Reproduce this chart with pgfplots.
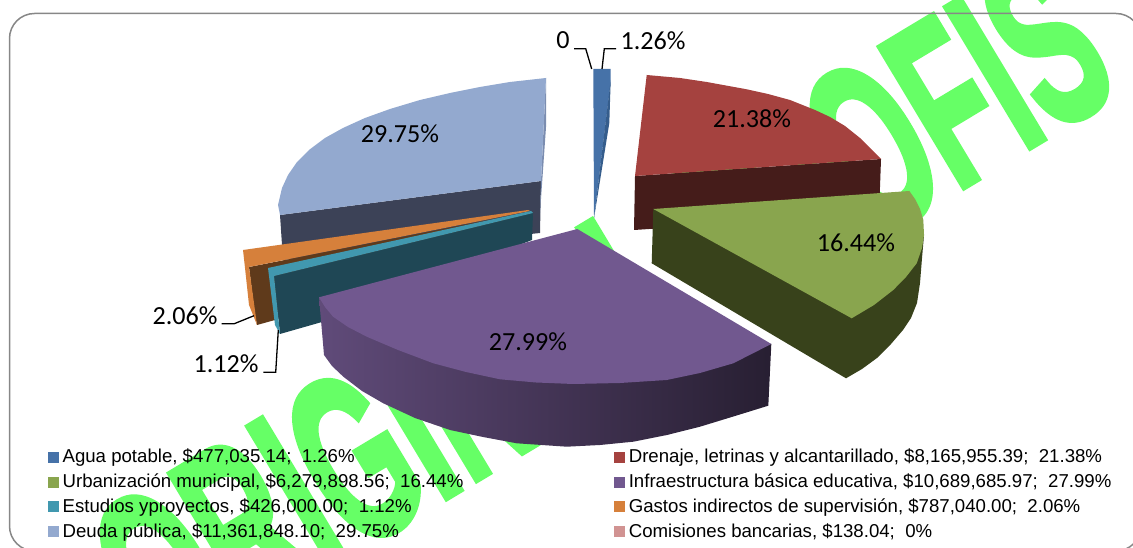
\documentclass[border=0pt]{standalone}
\usepackage{graphicx}
\usepackage{fontspec}
\setmainfont{Liberation Sans}
\newfontfamily\calibri{Carlito}
\newfontfamily\wmfont[FakeBold=3]{Liberation Sans Bold}
\usepackage{pgfplots}
\pgfplotsset{compat=1.18}

\definecolor{agua}{RGB}{70,114,168}
\definecolor{aguaside}{RGB}{53,93,140}
\definecolor{drenaje}{RGB}{165,66,63}
\definecolor{drenajeside}{RGB}{69,28,26}
\definecolor{urban}{RGB}{137,165,78}
\definecolor{urbanside}{RGB}{56,66,27}
\definecolor{infra}{RGB}{113,88,143}
\definecolor{estudios}{RGB}{65,152,175}
\definecolor{estudiosside}{RGB}{31,71,85}
\definecolor{gastos}{RGB}{214,128,59}
\definecolor{gastosside}{RGB}{95,58,27}
\definecolor{deuda}{RGB}{147,169,207}
\definecolor{deudaside}{RGB}{60,66,87}
\definecolor{deudastrip}{RGB}{123,141,176}
\definecolor{comisiones}{RGB}{209,147,146}
\definecolor{marca}{RGB}{102,255,102}

\tikzset{lab/.style={font=\fontsize{26.2}{27}\selectfont\calibri,inner sep=0pt}}
\pgfplotsset{
  slice/.style={draw=none,no markers,forget plot},
  leader/.style={black,line width=1.3bp,no markers,forget plot},
}

\begin{document}
\begin{tikzpicture}[x=1bp,y=1bp]
\path[use as bounding box,clip] (0,0) rectangle (1133,548);
% watermark behind everything
\node[rotate=31,inner sep=0pt,text=marca] at (601,238)
  {\scalebox{0.535}[1]{\fontsize{237}{237}\selectfont\wmfont ORIGINA\kern.27em L\ P\kern-.27em ROFIS}};
% chart frame, runs off the page on the right and at the bottom
\draw[color=black!47,line width=1.5bp,rounded corners=25bp] (9.5,-3) rectangle (1141,534.5);

\begin{axis}[
  at={(0,0)},anchor=south west,
  width=1133bp,height=548bp,scale only axis,
  xmin=0,xmax=1133,ymin=0,ymax=548,y dir=reverse,
  hide axis,clip=false,
  legend columns=2,
  legend cell align=left,
  legend image code/.code={\fill[#1] (0bp,-5bp) rectangle (10bp,5bp);},
  legend style={
    at={(axis cs:48,448)},anchor=north west,draw=none,fill=none,inner sep=0pt,
    font=\fontsize{18.7}{20}\selectfont,
    row sep=7.6bp,
    /tikz/column 1/.style={column sep=3bp},
    /tikz/column 2/.style={column sep=150bp},
    /tikz/column 3/.style={column sep=3bp},
    nodes={inner sep=1bp},
  },
]
\addlegendimage{agua}\addlegendentry{Agua potable, \$477,035.14;\ \ 1.26\%}
\addlegendimage{drenaje}\addlegendentry{Drenaje, letrinas y alcantarillado, \$8,165,955.39;\ \ 21.38\%}
\addlegendimage{urban}\addlegendentry{Urbanización municipal, \$6,279,898.56;\ \ 16.44\%}
\addlegendimage{infra}\addlegendentry{Infraestructura básica educativa, \$10,689,685.97;\ \ 27.99\%}
\addlegendimage{estudios}\addlegendentry{Estudios yproyectos, \$426,000.00;\ \ 1.12\%}
\addlegendimage{gastos}\addlegendentry{Gastos indirectos de supervisión, \$787,040.00;\ \ 2.06\%}
\addlegendimage{deuda}\addlegendentry{Deuda pública, \$11,361,848.10;\ \ 29.75\%}
\addlegendimage{comisiones}\addlegendentry{Comisiones bancarias, \$138.04;\ \ 0\%}

% Deuda publica
\addplot[slice,fill=deudaside] coordinates {(280,215)(541,181)(540,233)(283,260)};
\addplot[slice,fill=deudastrip] coordinates {(541,181)(546,78)(546,127)(540,213)};
\addplot[slice,fill=deuda] coordinates {(546,78)(510,82)(480,87)(450,93)(420,100)(390,109)(365,118)(343,128)(325,138)(309,150)(297,162)(288,175)(282,188)(278,205)(280,215)(541,181)};
% Gastos indirectos
\addplot[slice,fill=gastosside] coordinates {(249,267)(255,315)(257,325)(275,320)(530,212)};
\addplot[slice,fill=gastos] coordinates {(243,250)(245,268)(249,305)(257,325)(249,267)(530,211)(528,210)};
% Estudios y proyectos
\addplot[slice,fill=estudiosside] coordinates {(274,276)(280,334)(322,322)(532,240)(533,213)};
\addplot[slice,fill=estudios] coordinates {(268,268)(275,325)(280,334)(274,276)(533,213)(531,211)};
% Agua potable
\addplot[slice,fill=agua] coordinates {(593.3,69)(610.7,69)(610.7,82)(594,218)};
\addplot[slice,fill=aguaside] coordinates {(610.7,80)(609.3,123)(594,218)};
% Drenaje
\addplot[slice,fill=drenajeside] coordinates {(635,176)(881,159)(879,214)(634,230)};
\addplot[slice,fill=drenaje] coordinates {(646.7,75)(680,78)(706.7,82)(746.7,89.3)(768,94)(790,100)(815,110)(830,117)(845,126)(860,138)(871,149)(881,159)(635,176)};
% Urbanizacion
\addplot[slice,fill=urbanside] coordinates {(653.3,209)(651.7,263.3)(846,378.3)(862,369)(877,358)(891,344)(903,330)(911,318)(917,303)(920,283)(922,258)(924,235)};
\addplot[slice,fill=urban] coordinates {(653.3,209)(909.3,191)(915,199)(920,209)(923.3,220)(924,235)(922,248)(916.7,263.3)(906,277)(893.3,290)(874,305)(851.7,318.3)};
% Infraestructura, side with the shading across it
\addplot[slice,left color=infra!85!black,middle color=infra!62!black,right color=infra!35!black]
  coordinates {(319,297.3)(324,355)(332,366)(343.3,376.7)(362,391)(383.3,403.3)(415,418)(450,430)(483,437)(516.7,443.3)(566.7,446.7)(600,445)(633.3,441.7)(667,435)(700,426.7)(735,416)(768.3,405.7)(771.3,344)};
\addplot[slice,fill=infra] coordinates {(577.3,229)(771.3,344)(733.3,363.3)(700,373)(666.7,380)(620,383)(573.3,384)(536,382.5)(500,379.3)(466,372)(433.3,363.3)(398,350)(366.7,336.7)(348,327)(333,316.7)(325,307)(319,297.3)};

% leader lines
\addplot[leader] coordinates {(574,48.7)(585.7,48.7)(591.7,69)};
\addplot[leader] coordinates {(616,48.7)(604.3,48.7)(602,69)};
\addplot[leader] coordinates {(221.7,323.7)(234.3,323.7)(254,315.7)};
\addplot[leader] coordinates {(263.3,372.3)(275.7,372.3)(278.3,330)};

% data labels
\node[lab] at (axis cs:752,119) {21.38\%};
\node[lab] at (axis cs:400,134) {29.75\%};
\node[lab] at (axis cs:856,243) {16.44\%};
\node[lab] at (axis cs:528,342) {27.99\%};
\node[lab] at (axis cs:185,316) {2.06\%};
\node[lab] at (axis cs:226,364) {1.12\%};
\node[lab] at (axis cs:563,40) {0};
\node[lab] at (axis cs:653,41) {1.26\%};
\end{axis}
\end{tikzpicture}
\end{document}
